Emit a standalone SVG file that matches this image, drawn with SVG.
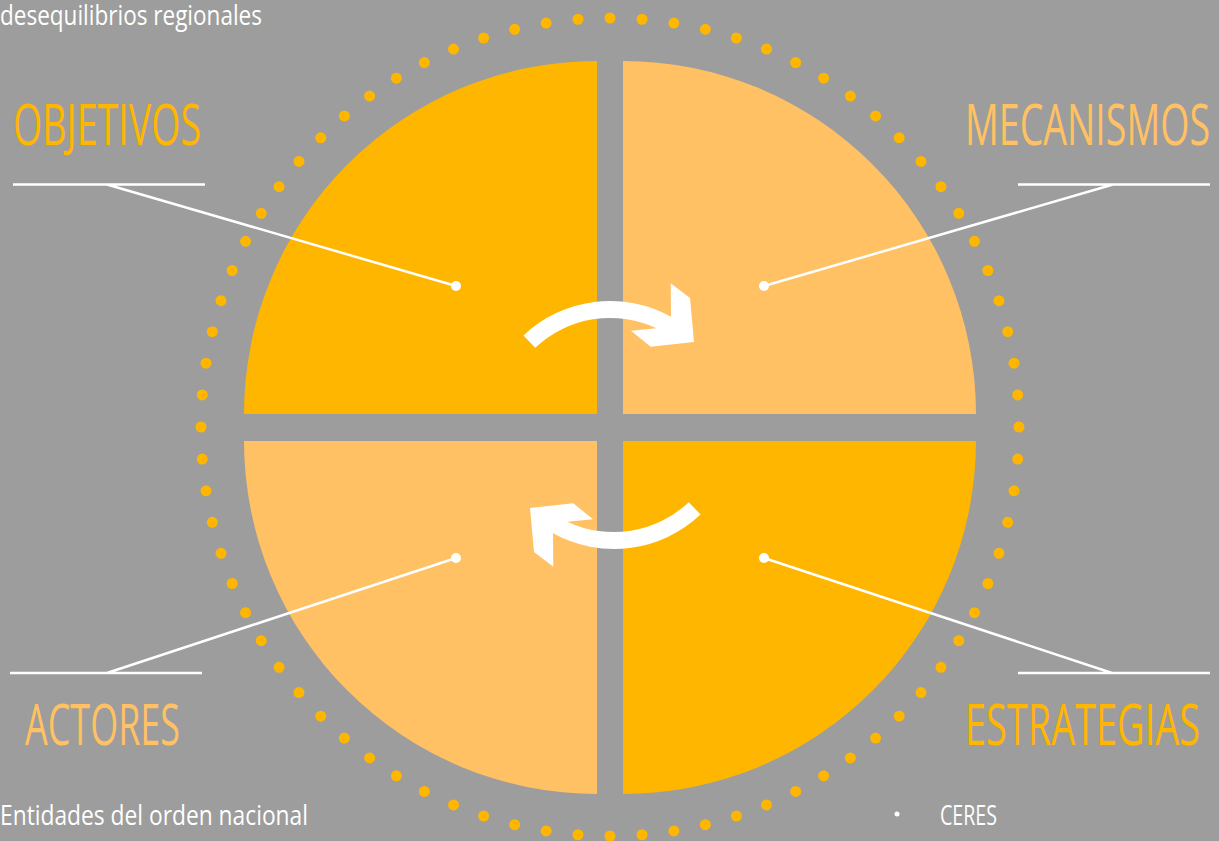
<svg xmlns="http://www.w3.org/2000/svg" width="1219" height="841" viewBox="0 0 1219 841">
<defs>
<style>
.dark{fill:#FFB600}
.light{fill:#FFC163}
.lead{stroke:#FFFFFF;stroke-width:2.5;fill:none}
.pin{fill:#FFFFFF}
.big{font-family:"Open Sans","Liberation Sans",sans-serif;font-size:56px}
.small{font-family:"Open Sans","Liberation Sans",sans-serif;font-size:27px;fill:#FFFFFF}
.arrow{fill:#FFFFFF}
</style>
<path id="arr" d="M523.5,335.4 A126,126 0 0 1 671,316.7 L670.7,283.3 L690,298 L694,342 L650.7,346.7 L631,330.7 L656.7,328.3 A109,109 0 0 0 535.2,347.8 Z"/>
</defs>
<rect width="1219" height="841" fill="#9C9D9C"/>
<g id="ring">
<path d="M610,18 A409,409 0 1 1 610,836 A409,409 0 1 1 610,18" pathLength="80" fill="none" stroke="#FFB600" stroke-width="11" stroke-linecap="round" stroke-dasharray="0 1"/>
</g>
<g id="objetivos">
<path class="dark" d="M597,414 L244,414 A353,353 0 0 1 597,61 Z"/>
<text class="big" x="13" y="145" fill="#FFB600" textLength="188" lengthAdjust="spacingAndGlyphs">OBJETIVOS</text>
</g>
<g id="mecanismos">
<path class="light" d="M623,414 L623,61 A353,353 0 0 1 976,414 Z"/>
<text class="big" x="965" y="145" fill="#FFC163" textLength="245" lengthAdjust="spacingAndGlyphs">MECANISMOS</text>
</g>
<g id="actores">
<path class="light" d="M597,441 L597,794 A353,353 0 0 1 244,441 Z"/>
<text class="big" x="25" y="745" fill="#FFC163" textLength="155" lengthAdjust="spacingAndGlyphs">ACTORES</text>
</g>
<g id="estrategias">
<path class="dark" d="M623,441 L976,441 A353,353 0 0 1 623,794 Z"/>
<text class="big" x="965" y="745" fill="#FFB600" textLength="235" lengthAdjust="spacingAndGlyphs">ESTRATEGIAS</text>
</g>
<g id="cycle-arrows">
<use href="#arr" class="arrow"/>
<use href="#arr" class="arrow" transform="rotate(180 612 425)"/>
</g>
<g id="connectors">
<path class="lead" d="M13,184.5 H205 M107,184.5 L456,286"/>
<path class="lead" d="M1018,184.5 H1210 M1113,184.5 L764,286"/>
<path class="lead" d="M10,673 H202 M107,673 L456,558"/>
<path class="lead" d="M1018,673 H1210 M1112,673 L764,558"/>
<circle class="pin" cx="456" cy="286" r="5"/>
<circle class="pin" cx="764" cy="286" r="5"/>
<circle class="pin" cx="456" cy="558" r="5"/>
<circle class="pin" cx="764" cy="558" r="5"/>
</g>
<g id="notes">
<text class="small" x="0" y="25" textLength="262" lengthAdjust="spacingAndGlyphs">desequilibrios regionales</text>
<text class="small" x="0" y="825" textLength="308" lengthAdjust="spacingAndGlyphs">Entidades del orden nacional</text>
<circle cx="897" cy="814" r="2.5" fill="#FFFFFF"/>
<text class="small" x="940" y="825" textLength="57" lengthAdjust="spacingAndGlyphs">CERES</text>
</g>
</svg>
